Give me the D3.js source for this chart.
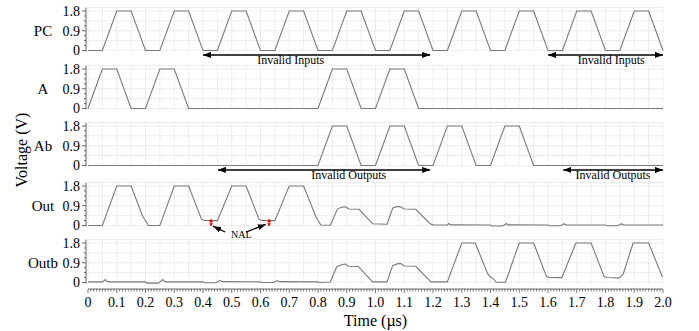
<!DOCTYPE html>
<html>
<head>
<meta charset="utf-8">
<script src="https://cdn.jsdelivr.net/npm/d3@7"></script>
<style>
body { margin: 0; background: #fff; }
text { font-family: "Liberation Serif", "Times New Roman", serif; fill: #000; }
</style>
</head>
<body>
<svg id="chart" width="699" height="331"></svg>
<script>
'use strict';
// signal names, top to bottom
var signalNames = ['PC', 'A', 'Ab', 'Out', 'Outb'];

// waveforms: [time (us), voltage (V)]
var pcWave = [[0,0],[0.05,0],[0.1,1.8],[0.15,1.8],[0.2,0],[0.25,0],[0.3,1.8],[0.35,1.8],[0.4,0],[0.45,0],
    [0.5,1.8],[0.55,1.8],[0.6,0],[0.65,0],[0.7,1.8],[0.75,1.8],[0.8,0],[0.85,0],[0.9,1.8],[0.95,1.8],
    [1.0,0],[1.05,0],[1.1,1.8],[1.15,1.8],[1.2,0],[1.25,0],[1.3,1.8],[1.35,1.8],[1.4,0],[1.45,0],
    [1.5,1.8],[1.55,1.8],[1.6,0],[1.65,0],[1.7,1.8],[1.75,1.8],[1.8,0],[1.85,0],[1.9,1.8],[1.95,1.8],[2.0,0]];
var aWave = [[0,0],[0.05,1.8],[0.1,1.8],[0.15,0],[0.2,0],[0.25,1.8],[0.3,1.8],[0.35,0],[0.8,0],
    [0.85,1.8],[0.9,1.8],[0.95,0],[1.0,0],[1.05,1.8],[1.1,1.8],[1.15,0],[2.0,0]];
var abWave = [[0,0],[0.8,0],[0.85,1.8],[0.9,1.8],[0.95,0],[1.0,0],[1.05,1.8],[1.1,1.8],[1.15,0],
    [1.2,0],[1.25,1.8],[1.3,1.8],[1.35,0],[1.4,0],[1.45,1.8],[1.5,1.8],[1.55,0],[2.0,0]];
var outWave = [[0,0],[0.05,0],[0.1,1.8],[0.15,1.8],[0.19,0.42],[0.2,0.23],[0.21,0],[0.25,0],
    [0.3,1.8],[0.35,1.8],[0.395,0.28],[0.405,0.23],[0.45,0.22],[0.5,1.8],[0.55,1.8],[0.595,0.28],
    [0.605,0.23],[0.65,0.22],[0.7,1.8],[0.75,1.8],[0.792,0.42],[0.8,0.23],[0.81,0.02],[0.843,0.01],
    [0.868,0.76],[0.886,0.84],[0.895,0.85],[0.908,0.75],[0.943,0.74],[0.99,0.08],[1.04,0.06],
    [1.06,0.8],[1.075,0.86],[1.085,0.86],[1.1,0.75],[1.14,0.74],[1.19,0.08],[1.2,0.03],[1.24,0.02],
    [1.25,0.03],[1.255,0.09],[1.262,0.03],[1.4,0.02],[1.405,-0.02],[1.44,-0.02],[1.45,0.03],
    [1.455,0.09],[1.462,0.03],[1.6,0.02],[1.605,-0.01],[1.64,-0.01],[1.65,0.03],[1.655,0.08],
    [1.662,0.03],[1.8,0.02],[1.805,-0.01],[1.84,-0.01],[1.85,0.03],[1.855,0.08],[1.862,0.03],[2.0,0.02]];
var outbWave = [[0,0.03],[0.05,0.03],[0.056,0.08],[0.06,0.13],[0.066,0.05],[0.075,0.03],[0.2,0.03],
    [0.205,-0.03],[0.245,-0.03],[0.25,0.03],[0.256,0.08],[0.26,0.13],[0.266,0.05],[0.275,0.03],
    [0.4,0.03],[0.405,-0.01],[0.445,-0.01],[0.45,0.03],[0.456,0.07],[0.46,0.1],[0.466,0.04],
    [0.6,0.03],[0.605,0.0],[0.645,0.0],[0.65,0.03],[0.656,0.07],[0.66,0.09],[0.666,0.04],[0.8,0.03],
    [0.805,0.0],[0.843,0.02],[0.865,0.72],[0.885,0.82],[0.895,0.84],[0.905,0.74],[0.94,0.73],
    [0.99,0.03],[1.04,0.03],[1.06,0.78],[1.078,0.86],[1.088,0.86],[1.1,0.75],[1.14,0.74],
    [1.193,0.03],[1.25,0.03],[1.3,1.8],[1.347,1.8],[1.39,0.4],[1.4,0.24],[1.408,0.2],[1.42,0.01],
    [1.452,0.01],[1.5,1.8],[1.55,1.8],[1.595,0.27],[1.605,0.23],[1.648,0.22],[1.697,1.8],[1.75,1.8],
    [1.795,0.27],[1.805,0.23],[1.847,0.21],[1.856,0.3],[1.862,0.4],[1.896,1.8],[1.95,1.8],[1.998,0.25]];
var waves = [pcWave, aWave, abWave, outWave, outbWave];

var xTickValues = [0,0.1,0.2,0.3,0.4,0.5,0.6,0.7,0.8,0.9,1.0,1.1,1.2,1.3,1.4,1.5,1.6,1.7,1.8,1.9,2.0];
var xTickLabels = ['0','0.1','0.2','0.3','0.4','0.5','0.6','0.7','0.8','0.9','1.0',
    '1.1','1.2','1.3','1.4','1.5','1.6','1.7','1.8','1.9','2.0'];
var yTickValues = [0, 0.9, 1.8];
var yTickLabels = ['0', '0.9', '1.8'];

// double arrows: panel index, start/end time, label position in time, label
var rangeArrows = [
    {panel: 0, from: 0.4, to: 1.19, at: 0.705, label: 'Invalid Inputs'},
    {panel: 0, from: 1.6, to: 2.0, at: 1.82, label: 'Invalid Inputs'},
    {panel: 2, from: 0.452, to: 1.19, at: 0.907, label: 'Invalid Outputs'},
    {panel: 2, from: 1.653, to: 2.0, at: 1.826, label: 'Invalid Outputs'}
];
// NAL markers on the Out panel (time, top level, bottom level)
var nalMarks = [[0.428, 0.3, -0.03], [0.63, 0.3, -0.03]];

// layout
var svg = d3.select('#chart');
var x = d3.scaleLinear().domain([0, 2]).range([88, 663]);
var panelTops = [11, 69, 126, 186, 243],
    panelH = 39.5;
var gridColor = '#e8e8e8',
    waveColor = '#7a7a7a';

var defs = svg.append('defs');
function addMarker(id, color, w, h, reverse){
    defs.append('marker')
        .attr('id', id)
        .attr('viewBox', '0 0 10 10')
        .attr('refX', reverse ? 0 : 10).attr('refY', 5)
        .attr('markerWidth', w).attr('markerHeight', h)
        .attr('markerUnits', 'userSpaceOnUse')
        .attr('orient', 'auto')
        .attr('preserveAspectRatio', 'none')
        .append('path')
        .attr('d', reverse ? 'M10,0 L0,5 L10,10 z' : 'M0,0 L10,5 L0,10 z')
        .attr('fill', color);
}
addMarker('headEnd', '#000', 8, 6, false);
addMarker('headStart', '#000', 8, 6, true);
addMarker('redEnd', '#f00', 3, 4, false);
addMarker('redStart', '#f00', 3, 4, true);

var ys = panelTops.map(function(t){
    return d3.scaleLinear().domain([0, 1.8]).range([t + panelH, t]);
});

var line = d3.line()
    .x(function(d){ return x(d[0]); })
    .y(function(d){ return d[1]; });

ys.forEach(function(y, i){
    var g = svg.append('g');
    var gTop = y(1.96), gBot = y(-0.05);
    // grid
    g.selectAll('.vg')
        .data(d3.range(0, 41).map(function(k){ return k * 0.05; }))
        .enter().append('line')
        .attr('x1', function(d){ return x(d); }).attr('x2', function(d){ return x(d); })
        .attr('y1', gTop).attr('y2', gBot)
        .attr('stroke', gridColor).attr('stroke-width', 0.8);
    g.selectAll('.hg')
        .data([0, 0.45, 0.9, 1.35, 1.8, 1.96])
        .enter().append('line')
        .attr('x1', x(0)).attr('x2', x(2))
        .attr('y1', function(d){ return y(d); }).attr('y2', function(d){ return y(d); })
        .attr('stroke', gridColor).attr('stroke-width', 0.8);

    // y axis
    g.append('line')
        .attr('x1', 86).attr('x2', 86)
        .attr('y1', gTop).attr('y2', gBot)
        .attr('stroke', '#444').attr('stroke-width', 0.8);
    g.selectAll('.ymt')
        .data(d3.range(0, 9).map(function(k){ return k * 0.225; }))
        .enter().append('line')
        .attr('x1', function(d, k){ return k % 4 === 0 ? 82 : 84; }).attr('x2', 86)
        .attr('y1', function(d){ return y(d); }).attr('y2', function(d){ return y(d); })
        .attr('stroke', '#444').attr('stroke-width', 0.8);
    g.selectAll('.yl')
        .data(yTickValues)
        .enter().append('text')
        .attr('x', 80)
        .attr('y', function(d){ return y(d); })
        .attr('dy', '0.35em')
        .attr('text-anchor', 'end')
        .attr('font-size', 14)
        .text(function(d, k){ return yTickLabels[k]; });

    g.append('text')
        .attr('x', 43).attr('y', y(0.9))
        .attr('dy', '0.35em')
        .attr('text-anchor', 'middle')
        .attr('font-size', 15)
        .text(signalNames[i]);

    // waveform
    g.append('path')
        .attr('d', line(waves[i].map(function(p){ return [p[0], y(p[1])]; })))
        .attr('fill', 'none')
        .attr('stroke', waveColor)
        .attr('stroke-width', 1.1);
});

// range arrows
rangeArrows.forEach(function(a){
    var y = ys[a.panel];
    var yy = y(-0.2);
    svg.append('line')
        .attr('x1', x(a.from)).attr('x2', x(a.to))
        .attr('y1', yy).attr('y2', yy)
        .attr('stroke', '#000').attr('stroke-width', 1.5)
        .attr('marker-start', 'url(#headStart)')
        .attr('marker-end', 'url(#headEnd)');
    svg.append('text')
        .attr('x', x(a.at)).attr('y', yy + 9.5)
        .attr('text-anchor', 'middle')
        .attr('font-size', 12)
        .text(a.label);
});

// NAL markers
var yOut = ys[3];
nalMarks.forEach(function(m){
    svg.append('line')
        .attr('x1', x(m[0])).attr('x2', x(m[0]))
        .attr('y1', yOut(m[1])).attr('y2', yOut(m[2]))
        .attr('stroke', '#f00').attr('stroke-width', 1)
        .attr('marker-start', 'url(#redStart)')
        .attr('marker-end', 'url(#redEnd)');
});
svg.append('text')
    .attr('x', x(0.533)).attr('y', yOut(-0.55))
    .attr('text-anchor', 'middle')
    .attr('font-size', 10)
    .text('NAL');
[[0.477, -0.3, 0.435, -0.03], [0.55, -0.3, 0.618, 0.05]].forEach(function(p){
    svg.append('line')
        .attr('x1', x(p[0])).attr('y1', yOut(p[1]))
        .attr('x2', x(p[2])).attr('y2', yOut(p[3]))
        .attr('stroke', '#000').attr('stroke-width', 1.2)
        .attr('marker-end', 'url(#headEnd)');
});

// x axis
var axisY = 289;
svg.append('line')
    .attr('x1', x(0)).attr('x2', x(2))
    .attr('y1', axisY).attr('y2', axisY)
    .attr('stroke', '#444').attr('stroke-width', 0.8);
svg.selectAll('.xmt')
    .data(d3.range(0, 201))
    .enter().append('line')
    .attr('x1', function(k){ return x(k / 100); }).attr('x2', function(k){ return x(k / 100); })
    .attr('y1', axisY)
    .attr('y2', function(k){ return k % 10 === 0 ? axisY + 4 : axisY + 2.5; })
    .attr('stroke', '#444').attr('stroke-width', 0.7);
svg.selectAll('.xl')
    .data(xTickValues)
    .enter().append('text')
    .attr('x', function(d){ return x(d); })
    .attr('y', 307)
    .attr('text-anchor', 'middle')
    .attr('font-size', 14)
    .text(function(d, k){ return xTickLabels[k]; });

svg.append('text')
    .attr('x', x(1.0)).attr('y', 326)
    .attr('text-anchor', 'middle')
    .attr('font-size', 16)
    .text('Time (\u00b5s)');
svg.append('text')
    .attr('transform', 'translate(27,150) rotate(-90)')
    .attr('text-anchor', 'middle')
    .attr('font-size', 16)
    .text('Voltage (V)');
</script>
</body>
</html>
